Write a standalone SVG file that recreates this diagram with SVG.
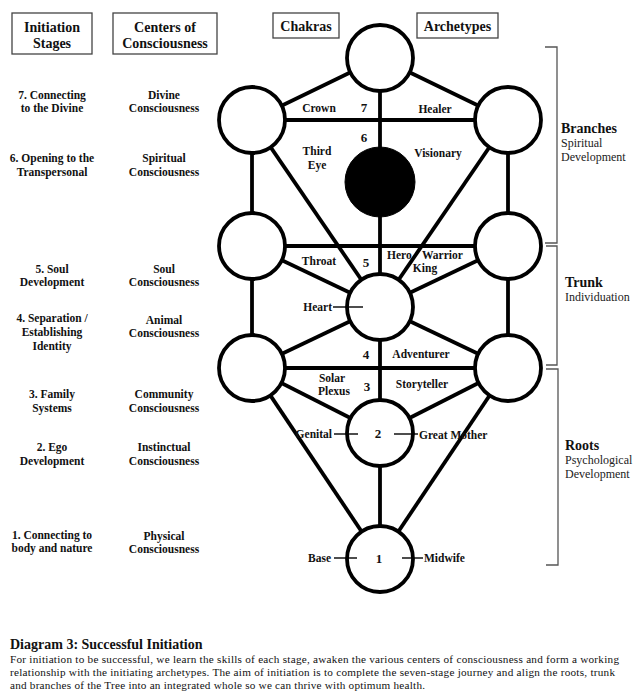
<svg xmlns="http://www.w3.org/2000/svg" width="644" height="700" viewBox="0 0 644 700">
<style>
  .bg{fill:#fff}
  .hdr{fill:none;stroke:#444;stroke-width:1.3}
  .ht{font-family:"Liberation Serif","Times New Roman",serif;font-weight:bold;font-size:14px;fill:#111;text-anchor:middle}
  .lt{font-family:"Liberation Serif","Times New Roman",serif;font-weight:bold;font-size:11.5px;fill:#111;text-anchor:middle}
  .lab{font-family:"Liberation Serif","Times New Roman",serif;font-weight:bold;font-size:11.5px;fill:#111;text-anchor:middle}
  .num{font-family:"Liberation Serif","Times New Roman",serif;font-weight:bold;font-size:13px;fill:#111;text-anchor:middle}
  .edge{stroke:#000;stroke-width:3.8;fill:none}
  .node{fill:#fff;stroke:#000;stroke-width:3.8}
  .dark{fill:#000;stroke:#000;stroke-width:1}
  .tick{stroke:#000;stroke-width:1.4}
  .br{fill:none;stroke:#555;stroke-width:1.3}
  .bt{font-family:"Liberation Serif","Times New Roman",serif;font-weight:bold;font-size:14px;fill:#111}
  .bs{font-family:"Liberation Serif","Times New Roman",serif;font-size:12px;fill:#222}
  .cap{font-family:"Liberation Serif","Times New Roman",serif;font-size:11.2px;fill:#111}
  .capt{font-family:"Liberation Serif","Times New Roman",serif;font-weight:bold;font-size:14px;fill:#111}
</style>
<rect class="bg" x="0" y="0" width="644" height="700"/>

<g id="headers">
  <rect class="hdr" x="12" y="13" width="80" height="41"/>
  <text class="ht" x="52" y="32">Initiation</text>
  <text class="ht" x="52" y="48">Stages</text>
  <rect class="hdr" x="113" y="13" width="104" height="41"/>
  <text class="ht" x="165" y="32">Centers of</text>
  <text class="ht" x="165" y="48">Consciousness</text>
  <rect class="hdr" x="273" y="13" width="66" height="25"/>
  <text class="ht" x="306" y="31">Chakras</text>
  <rect class="hdr" x="417" y="13" width="81" height="25"/>
  <text class="ht" x="457.5" y="31">Archetypes</text>
</g>

<g id="stages">
  <text class="lt" x="52" y="99">7. Connecting</text>
  <text class="lt" x="52" y="112">to the Divine</text>
  <text class="lt" x="52" y="162">6. Opening to the</text>
  <text class="lt" x="52" y="176">Transpersonal</text>
  <text class="lt" x="52" y="273">5. Soul</text>
  <text class="lt" x="52" y="286">Development</text>
  <text class="lt" x="52" y="322">4. Separation /</text>
  <text class="lt" x="52" y="336">Establishing</text>
  <text class="lt" x="52" y="350">Identity</text>
  <text class="lt" x="52" y="398">3. Family</text>
  <text class="lt" x="52" y="412">Systems</text>
  <text class="lt" x="52" y="451">2. Ego</text>
  <text class="lt" x="52" y="465">Development</text>
  <text class="lt" x="52" y="539">1. Connecting to</text>
  <text class="lt" x="52" y="552">body and nature</text>
</g>

<g id="centers">
  <text class="lt" x="164" y="99">Divine</text>
  <text class="lt" x="164" y="112">Consciousness</text>
  <text class="lt" x="164" y="162">Spiritual</text>
  <text class="lt" x="164" y="176">Consciousness</text>
  <text class="lt" x="164" y="273">Soul</text>
  <text class="lt" x="164" y="286">Consciousness</text>
  <text class="lt" x="164" y="324">Animal</text>
  <text class="lt" x="164" y="337">Consciousness</text>
  <text class="lt" x="164" y="398">Community</text>
  <text class="lt" x="164" y="412">Consciousness</text>
  <text class="lt" x="164" y="451">Instinctual</text>
  <text class="lt" x="164" y="465">Consciousness</text>
  <text class="lt" x="164" y="540">Physical</text>
  <text class="lt" x="164" y="553">Consciousness</text>
</g>

<g id="connectors">
  <line class="edge" x1="380" y1="58" x2="380" y2="559"/>
  <line class="edge" x1="380" y1="58" x2="252" y2="120"/>
  <line class="edge" x1="380" y1="58" x2="508" y2="120"/>
  <line class="edge" x1="252" y1="120" x2="508" y2="120"/>
  <line class="edge" x1="252" y1="120" x2="380" y2="307"/>
  <line class="edge" x1="508" y1="120" x2="380" y2="307"/>
  <line class="edge" x1="252" y1="120" x2="252" y2="368"/>
  <line class="edge" x1="508" y1="120" x2="508" y2="368"/>
  <line class="edge" x1="252" y1="246" x2="508" y2="246"/>
  <line class="edge" x1="252" y1="246" x2="380" y2="307"/>
  <line class="edge" x1="508" y1="246" x2="380" y2="307"/>
  <line class="edge" x1="252" y1="368" x2="380" y2="307"/>
  <line class="edge" x1="508" y1="368" x2="380" y2="307"/>
  <line class="edge" x1="252" y1="368" x2="508" y2="368"/>
  <line class="edge" x1="252" y1="368" x2="380" y2="433"/>
  <line class="edge" x1="508" y1="368" x2="380" y2="433"/>
  <line class="edge" x1="252" y1="368" x2="380" y2="559"/>
  <line class="edge" x1="508" y1="368" x2="380" y2="559"/>
</g>

<g id="node-top"><circle class="node" cx="380" cy="58" r="33"/></g>
<g id="node-left1"><circle class="node" cx="252" cy="120" r="33"/></g>
<g id="node-right1"><circle class="node" cx="508" cy="120" r="33"/></g>
<g id="node-third-eye"><circle class="dark" cx="380" cy="182" r="35"/></g>
<g id="node-left2"><circle class="node" cx="252" cy="246" r="33"/></g>
<g id="node-right2"><circle class="node" cx="508" cy="246" r="33"/></g>
<g id="node-heart"><circle class="node" cx="380" cy="307" r="33"/></g>
<g id="node-left3"><circle class="node" cx="252" cy="368" r="33"/></g>
<g id="node-right3"><circle class="node" cx="508" cy="368" r="33"/></g>
<g id="node-2"><circle class="node" cx="380" cy="433" r="33"/></g>
<g id="node-1"><circle class="node" cx="380" cy="559" r="33"/></g>

<g id="labels">
  <text class="lab" x="319" y="112">Crown</text>
  <text class="num" x="364" y="112">7</text>
  <text class="lab" x="435" y="113">Healer</text>
  <text class="num" x="364" y="142">6</text>
  <text class="lab" x="317" y="155">Third</text>
  <text class="lab" x="317" y="169">Eye</text>
  <text class="lab" x="438" y="157">Visionary</text>
  <text class="lab" x="319" y="265">Throat</text>
  <text class="num" x="366" y="267">5</text>
  <text class="lab" x="387" y="259" style="text-anchor:start">Hero<tspan x="422">Warrior</tspan></text>
  <text class="lab" x="425" y="272">King</text>
  <text class="lab" x="332" y="311" style="text-anchor:end">Heart</text>
  <line class="tick" x1="333" y1="307" x2="363" y2="307"/>
  <text class="num" x="366" y="359">4</text>
  <text class="lab" x="421" y="358">Adventurer</text>
  <text class="lab" x="332" y="382">Solar</text>
  <text class="lab" x="334" y="395">Plexus</text>
  <text class="num" x="367" y="391">3</text>
  <text class="lab" x="422" y="388">Storyteller</text>
  <text class="lab" x="332" y="438" style="text-anchor:end">Genital</text>
  <line class="tick" x1="334" y1="434" x2="358" y2="434"/>
  <text class="num" x="378" y="438">2</text>
  <line class="tick" x1="394" y1="434" x2="418" y2="434"/>
  <text class="lab" x="419" y="439" style="text-anchor:start">Great Mother</text>
  <text class="lab" x="331" y="562" style="text-anchor:end">Base</text>
  <line class="tick" x1="334" y1="558" x2="357" y2="558"/>
  <text class="num" x="379" y="563">1</text>
  <line class="tick" x1="402" y1="558" x2="423" y2="558"/>
  <text class="lab" x="424" y="562" style="text-anchor:start">Midwife</text>
</g>

<g id="brackets">
  <polyline class="br" points="545,47 557,47 557,243 545,243"/>
  <polyline class="br" points="546,246 557,246 557,365 546,365"/>
  <polyline class="br" points="546,369 558,369 558,565 546,565"/>
  <text class="bt" x="561" y="133">Branches</text>
  <text class="bs" x="561" y="147">Spiritual</text>
  <text class="bs" x="561" y="161">Development</text>
  <text class="bt" x="565" y="287">Trunk</text>
  <text class="bs" x="565" y="301">Individuation</text>
  <text class="bt" x="565" y="450">Roots</text>
  <text class="bs" x="565" y="464">Psychological</text>
  <text class="bs" x="565" y="478">Development</text>
</g>

<g id="caption">
  <text class="capt" x="10" y="649">Diagram 3: Successful Initiation</text>
  <text class="cap" x="10" y="663" textLength="609" lengthAdjust="spacing">For initiation to be successful, we learn the skills of each stage, awaken the various centers of consciousness and form a working</text>
  <text class="cap" x="10" y="676" textLength="605" lengthAdjust="spacing">relationship with the initiating archetypes. The aim of initiation is to complete the seven-stage journey and align the roots, trunk</text>
  <text class="cap" x="10" y="689" textLength="415" lengthAdjust="spacing">and branches of the Tree into an integrated whole so we can thrive with optimum health.</text>
</g>
</svg>
